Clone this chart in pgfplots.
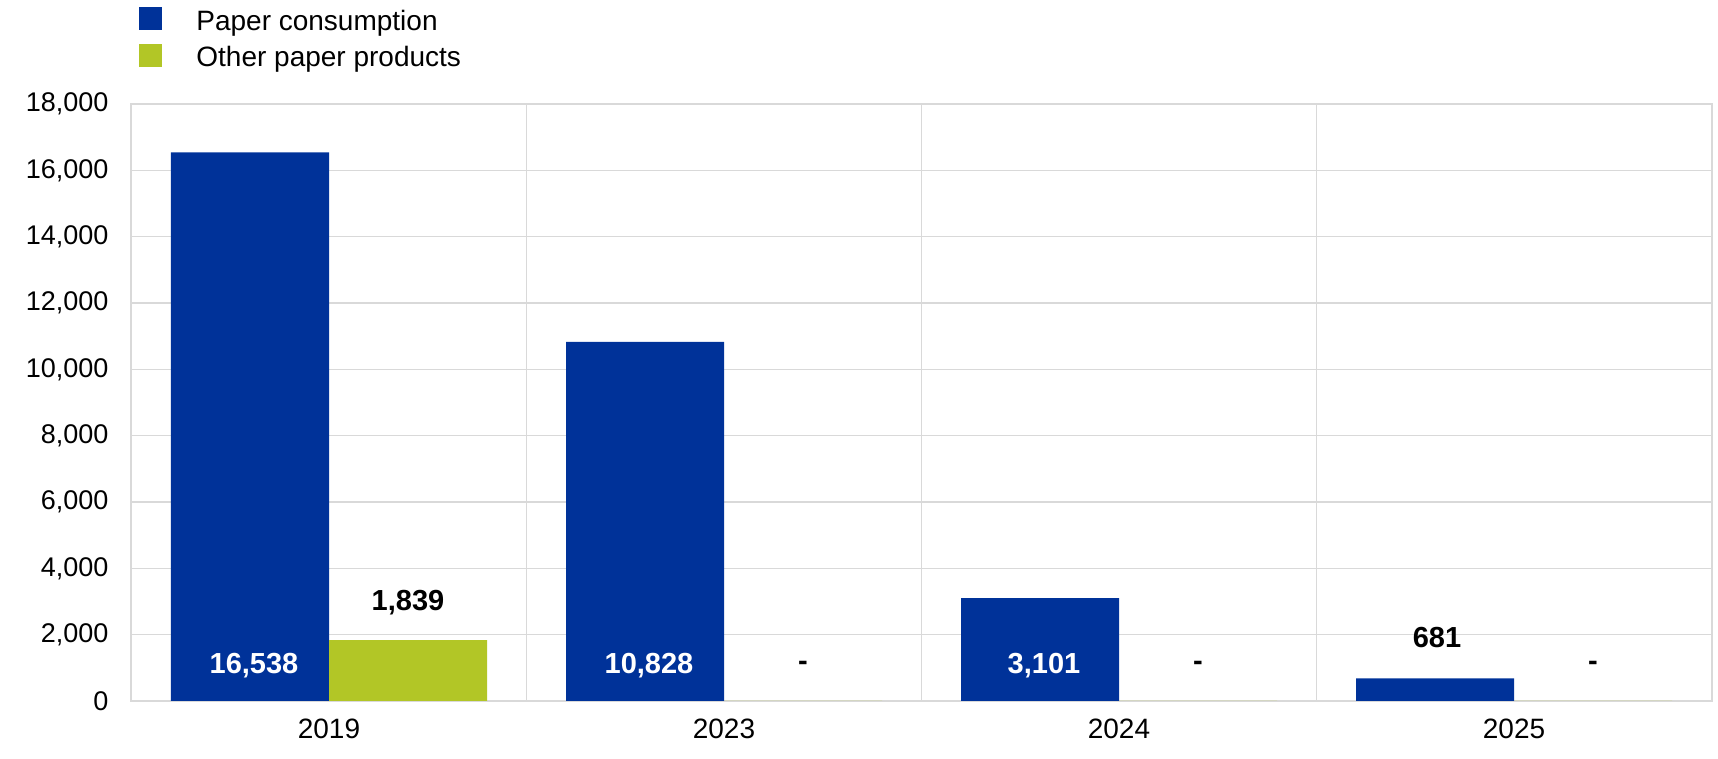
\documentclass[border=0pt]{standalone}
\usepackage{fontspec}
\setmainfont{Liberation Sans}
\usepackage{pgfplots}
\usepackage{pgfplotstable}
\pgfplotsset{compat=1.18}
\definecolor{ecbblue}{RGB}{0,50,153}
\definecolor{ecbgreen}{RGB}{178,198,38}
\definecolor{gridgray}{RGB}{217,217,217}

\pgfplotstableread{
x y
0 16538
1 10828
2 3101
3 681
}\paper
\pgfplotstableread{
x y
0 1839
1 0
2 0
3 0
}\other
\pgfplotstableread{
x y label
0 1055 16,538
1 1055 10,828
2 1055 3,101
}\paperwhite
\pgfplotstableread{
x y label
3 1900 681
}\paperblack
\pgfplotstableread{
x y label
0 2955 1,839
1 1055 -
2 1055 -
3 1055 -
}\otherlab

\begin{document}
\begin{tikzpicture}[font=\fontsize{14}{16.8}\selectfont]
\useasboundingbox (0,0) rectangle (859pt,379.5pt);
\begin{axis}[
 at={(65.75pt,29pt)}, anchor=south west,
 width=790pt, height=298.5pt, scale only axis,
 xmin=-0.5, xmax=3.5, ymin=0, ymax=18000,
 xtick={0,1,2,3}, xticklabels={2019,2023,2024,2025},
 minor xtick={0.5,1.5,2.5}, minor x grid style={gridgray, line width=0.6pt},
 xminorgrids, ymajorgrids,
 ytick={0,2000,...,18000},
 grid style={gridgray, line width=0.6pt},
 axis line style={gridgray, line width=1pt},
 major tick length=0pt, minor tick length=0pt,
 tick style={draw=none},
 /pgf/number format/assume math mode=true,
 /pgf/number format/1000 sep={,},
 scaled y ticks=false,
 yticklabel style={xshift=-8pt, font=\fontsize{13.5}{16}\selectfont},
 xticklabel style={yshift=-5.5pt},
 legend style={draw=none, fill=none, at={(0,1)}, anchor=north west,
   xshift=3.75pt, yshift=48.5pt, inner sep=0pt,
   nodes={inner sep=0pt, text height=10.4pt, text depth=3pt},
   row sep=3.7pt, column sep=17pt},
 legend cell align=left,
 clip=false,
]
\addplot[ybar, bar width=79pt, bar shift=-39.5pt, fill=ecbblue, draw=none,
  legend image code/.code={\fill[ecbblue] (0pt,-3.8pt) rectangle (11.5pt,7.7pt);}]
  table[x=x,y=y] {\paper};
\addlegendentry{Paper consumption}
\addplot[ybar, bar width=79pt, bar shift=39.5pt, fill=ecbgreen, draw=none,
  legend image code/.code={\fill[ecbgreen] (0pt,-3.8pt) rectangle (11.5pt,7.7pt);}]
  table[x=x,y=y] {\other};
\addlegendentry{Other paper products}

\addplot[forget plot, draw=none, mark=none, point meta=explicit symbolic,
  nodes near coords,
  nodes near coords style={font=\fontsize{14.5}{17}\selectfont\bfseries, text=white, anchor=center, xshift=-37.5pt}]
  table[x=x,y=y,meta=label] {\paperwhite};
\addplot[forget plot, draw=none, mark=none, point meta=explicit symbolic,
  nodes near coords,
  nodes near coords style={font=\fontsize{14.5}{17}\selectfont\bfseries, text=black, anchor=center, xshift=-38.5pt}]
  table[x=x,y=y,meta=label] {\paperblack};
\addplot[forget plot, draw=none, mark=none, point meta=explicit symbolic,
  nodes near coords,
  nodes near coords style={font=\fontsize{14.5}{17}\selectfont\bfseries, text=black, anchor=center, xshift=39.5pt}]
  table[x=x,y=y,meta=label] {\otherlab};
\end{axis}
\end{tikzpicture}
\end{document}
